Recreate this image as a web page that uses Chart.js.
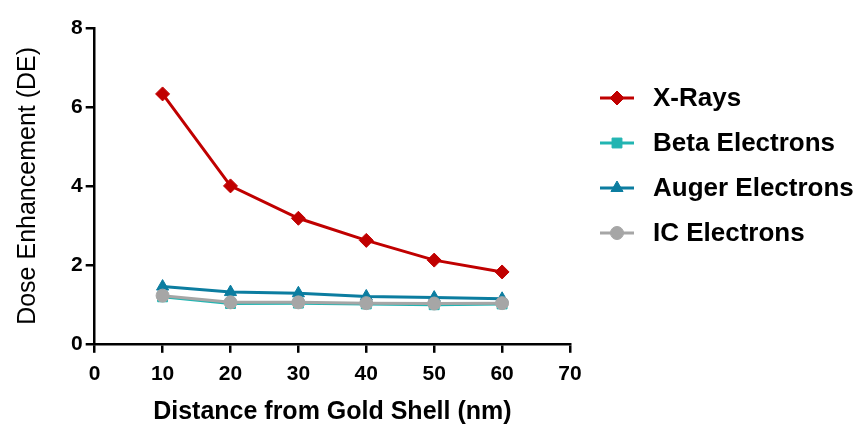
<!DOCTYPE html>
<html>
<head>
<meta charset="utf-8">
<script src="https://cdn.jsdelivr.net/npm/chart.js@4"></script>
<style>
html,body{margin:0;padding:0;background:#fff;}
#wrap{width:854px;height:427px;position:relative;}
</style>
</head>
<body>
<div id="wrap"><canvas id="c" width="854" height="427"></canvas></div>
<script>
const distances = [10, 20, 30, 40, 50, 60];
const xRays = [6.33, 4.0, 3.18, 2.62, 2.12, 1.82];
const betaElectrons = [1.19, 1.02, 1.03, 1.01, 0.99, 1.01];
const augerElectrons = [1.45, 1.31, 1.28, 1.20, 1.17, 1.14];
const icElectrons = [1.22, 1.05, 1.05, 1.03, 1.02, 1.03];
const seriesLabels = ['X-Rays', 'Beta Electrons', 'Auger Electrons', 'IC Electrons'];
const xTicks = [0, 10, 20, 30, 40, 50, 60, 70];
const yTicks = [0, 2, 4, 6, 8];

const FONT = "Arial, 'Liberation Sans', sans-serif";
const pts = arr => distances.map((d, i) => ({x: d, y: arr[i]}));

function ds(label, data, color, style, radius, order) {
  return {
    label, data: pts(data), order,
    borderColor: color, backgroundColor: color,
    pointBackgroundColor: color, pointBorderColor: color,
    borderWidth: 3, pointStyle: style, pointRadius: radius, pointBorderWidth: 1,
    tension: 0, fill: false
  };
}

const legendPlugin = {
  id: 'sideLegend',
  afterDraw(chart) {
    const ctx = chart.ctx;
    const x0 = 600, x1 = 634, xm = 617, xt = 653;
    const y0 = 98, dy = 45;
    chart.data.datasets.forEach((d, i) => {
      const y = y0 + i * dy;
      ctx.save();
      ctx.strokeStyle = d.borderColor;
      ctx.lineWidth = 3;
      ctx.beginPath(); ctx.moveTo(x0, y); ctx.lineTo(x1, y); ctx.stroke();
      ctx.fillStyle = d.borderColor;
      ctx.lineWidth = 1;
      Chart.helpers.drawPoint(ctx, {pointStyle: d.pointStyle, radius: d.pointRadius, rotation: 0, borderWidth: 1}, xm, y);
      ctx.fillStyle = '#000';
      ctx.font = "bold 26px " + FONT;
      ctx.textBaseline = 'middle';
      ctx.textAlign = 'left';
      ctx.fillText(d.label, xt, y + 1);
      ctx.restore();
    });
  }
};

new Chart(document.getElementById('c'), {
  type: 'line',
  data: {
    datasets: [
      ds(seriesLabels[0], xRays, '#C00000', 'rectRot', 7, 0),
      ds(seriesLabels[1], betaElectrons, '#22B5B2', 'rect', 7, 3),
      ds(seriesLabels[2], augerElectrons, '#0C7DA0', 'triangle', 7, 2),
      ds(seriesLabels[3], icElectrons, '#A6A6A6', 'circle', 6.5, 1)
    ]
  },
  options: {
    responsive: false,
    animation: false,
    devicePixelRatio: 1,
    layout: {padding: {left: 13, right: 284, top: 28, bottom: 0}},
    plugins: {legend: {display: false}, tooltip: {enabled: false}},
    scales: {
      x: {
        type: 'linear', min: 0, max: 70,
        afterBuildTicks: s => { s.ticks = xTicks.map(v => ({value: v})); },
        border: {display: true, color: '#000', width: 2.5},
        grid: {drawOnChartArea: false, drawTicks: true, tickLength: 9, color: '#000', lineWidth: 2.5},
        ticks: {color: '#000', font: {family: FONT, size: 21, weight: 'bold'}, padding: 9, maxRotation: 0},
        title: {display: true, text: 'Distance from Gold Shell (nm)', color: '#000',
                font: {family: FONT, size: 25, weight: 'bold'}, padding: {top: 1, bottom: 0}}
      },
      y: {
        type: 'linear', min: 0, max: 8,
        afterBuildTicks: s => { s.ticks = yTicks.map(v => ({value: v})); },
        border: {display: true, color: '#000', width: 2.5},
        grid: {drawOnChartArea: false, drawTicks: true, tickLength: 9, color: '#000', lineWidth: 2.5},
        ticks: {color: '#000', font: {family: FONT, size: 21, weight: 'bold'}, padding: 3},
        title: {display: true, text: 'Dose Enhancement (DE)', color: '#000',
                font: {family: FONT, size: 25, weight: 'normal'}, padding: {top: 0, bottom: 25}}
      }
    }
  },
  plugins: [legendPlugin]
});
</script>
</body>
</html>
